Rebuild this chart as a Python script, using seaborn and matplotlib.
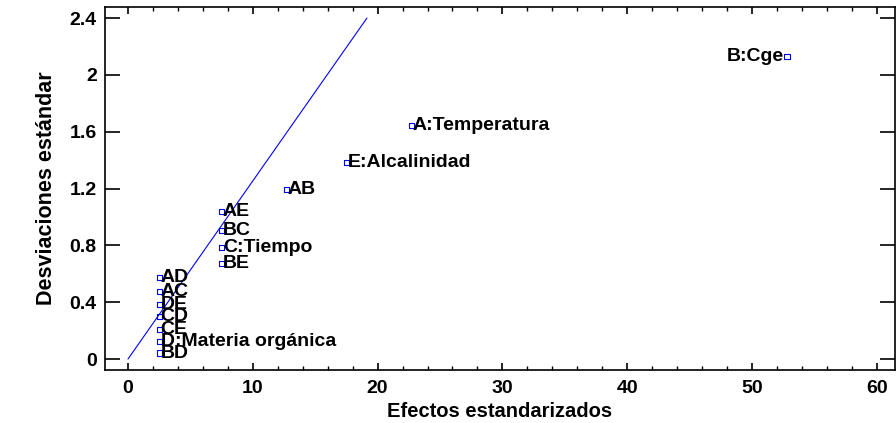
import matplotlib
matplotlib.use('Agg')
import matplotlib.pyplot as plt
import seaborn as sns
import pandas as pd
from matplotlib.ticker import MultipleLocator, FormatStrFormatter

# standardized effects and half-normal scores
effects = ['BD', 'D:Materia orgánica', 'CE', 'CD', 'DE', 'AC', 'AD', 'BE',
           'C:Tiempo', 'BC', 'AE', 'AB', 'E:Alcalinidad', 'A:Temperatura', 'B:Cge']
std_effect = [2.5, 2.5, 2.5, 2.5, 2.5, 2.5, 2.5, 7.5,
              7.5, 7.5, 7.5, 12.7, 17.5, 22.7, 52.8]
half_normal = [0.042, 0.126, 0.210, 0.297, 0.385, 0.477, 0.574, 0.675,
               0.784, 0.903, 1.036, 1.192, 1.383, 1.645, 2.128]

# reference line through the origin
line_x = [0, 19.15]
line_y = [0, 2.40]

df = pd.DataFrame({'effect': effects, 'x': std_effect, 'y': half_normal})
ref = pd.DataFrame({'x': line_x, 'y': line_y})

sns.set_style('ticks')
plt.rcParams['font.family'] = ['Liberation Sans', 'DejaVu Sans']
plt.rcParams['font.weight'] = 'bold'
plt.rcParams['text.color'] = 'black'
plt.rcParams['axes.labelcolor'] = 'black'
plt.rcParams['xtick.color'] = 'black'
plt.rcParams['ytick.color'] = 'black'

fig = plt.figure(figsize=(8.96, 4.23), dpi=100)
ax = fig.add_axes([0.1172, 0.1253, 0.8817, 0.858])

sns.lineplot(data=ref, x='x', y='y', color='#0000ff', linewidth=0.8, ax=ax)
sns.scatterplot(data=df, x='x', y='y', marker='s', s=14, facecolor='none',
                edgecolor='#0000ff', linewidth=0.8, ax=ax, zorder=3)

for _, r in df.iterrows():
    if r['effect'] == 'B:Cge':
        ax.annotate(r['effect'], (r['x'], r['y']), xytext=(-2, 0), textcoords='offset points',
                    ha='right', va='center', fontsize=14, fontweight='bold')
    else:
        ax.annotate(r['effect'], (r['x'], r['y']), xytext=(1, 0), textcoords='offset points',
                    ha='left', va='center', fontsize=14, fontweight='bold')

ax.set_xlim(-1.84, 61.46)
ax.set_ylim(-0.077, 2.477)
ax.xaxis.set_major_locator(MultipleLocator(10))
ax.xaxis.set_minor_locator(MultipleLocator(2))
ax.yaxis.set_major_locator(MultipleLocator(0.4))
ax.yaxis.set_major_formatter(FormatStrFormatter('%g'))
ax.tick_params(axis='x', which='major', direction='in', length=5, width=1.2,
               top=True, labelsize=14, pad=7)
ax.tick_params(axis='x', which='minor', direction='in', length=3, width=1, top=True)
ax.tick_params(axis='y', which='major', direction='in', length=11, width=1.2,
               right=True, labelsize=14, pad=6)
for lab in ax.get_xticklabels() + ax.get_yticklabels():
    lab.set_fontweight('bold')
for sp in ax.spines.values():
    sp.set_linewidth(1.2)
    sp.set_color('black')

ax.set_xlabel('Efectos estandarizados', fontsize=14.5, fontweight='bold', labelpad=4)
ax.set_ylabel('Desviaciones estándar', fontsize=15.5, fontweight='bold', labelpad=9)

fig.savefig('out.png', dpi=100)
